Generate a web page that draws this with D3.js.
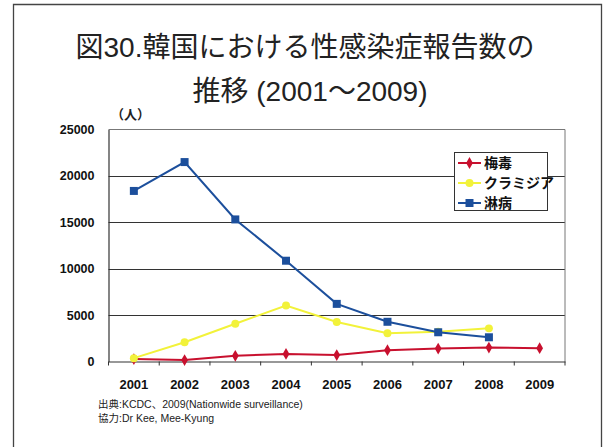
<!DOCTYPE html>
<html><head><meta charset="utf-8">
<script src="https://cdn.jsdelivr.net/npm/d3@7"></script>
<style>body{margin:0;background:#fff}svg{display:block}</style>
</head><body>
<script>
const years = ["2001","2002","2003","2004","2005","2006","2007","2008","2009"];
const syphilis = [260,150,610,820,690,1220,1390,1500,1430];
const chlamydia = [360,2080,4070,6040,4250,3040,3210,3570,null];
const gonorrhea = [18380,21490,15310,10860,6210,4280,3150,2610,null];
const yTicks = [0,5000,10000,15000,20000,25000];
const seriesNames = ["梅毒","クラミジア","淋病"];
const titleLines = ["図30.韓国における性感染症報告数の","推移 (2001～2009)"];
const notes = ["出典:KCDC、2009(Nationwide surveillance)","協力:Dr Kee, Mee-Kyung"];

const W=607,H=447;
const svg=d3.select("body").append("svg").attr("width",W).attr("height",H);
svg.append("rect").attr("width",W).attr("height",H).attr("fill","#fff");
// frame
svg.append("path").attr("d",`M13.5,${H+2}V4.5H601.5V${H+2}`).attr("fill","none").attr("stroke","#444").attr("stroke-width",1.3);

const cjk="'Noto Sans CJK JP','Noto Sans',sans-serif";
const mix="'Liberation Sans','Noto Sans CJK JP',sans-serif";
svg.selectAll("text.title").data(titleLines).join("text")
  .attr("x",(d,i)=>i?310:305).attr("y",(d,i)=>i?101:57)
  .attr("text-anchor","middle").attr("font-family",mix).attr("font-size",28)
  .attr("fill","#222").style("white-space","pre").text(d=>d);

const L=108.5,R=565,T=129.5,B=361.5;
const x=d3.scaleBand().domain(years).range([L,R]);
const y=d3.scaleLinear().domain([0,25000]).range([B,T]);

// gridlines
svg.append("g").selectAll("line").data(yTicks.filter(v=>v>0&&v<25000)).join("line")
  .attr("x1",L).attr("x2",R).attr("y1",d=>Math.round(y(d))+0.5).attr("y2",d=>Math.round(y(d))+0.5)
  .attr("stroke","#333").attr("stroke-width",1);
// plot border top/right
svg.append("path").attr("d",`M${L},${T}H${R}V${B}`).attr("fill","none").attr("stroke","#777").attr("stroke-width",1);

// axes
const yAxis=d3.axisLeft(y).tickValues(yTicks).tickFormat(d3.format("d")).tickSize(0).tickPadding(14);
const gy=svg.append("g").attr("transform",`translate(${L},0)`).call(yAxis);
gy.select(".domain").attr("stroke","#333").attr("stroke-width",1.2);
gy.selectAll("text").attr("font-family","'Liberation Sans',Arial,sans-serif").attr("font-weight","bold").attr("font-size",12.5).attr("fill","#111");

const xAxis=d3.axisBottom(x).tickSize(0).tickPadding(18);
const gx=svg.append("g").attr("transform",`translate(0,${B})`).call(xAxis);
gx.select(".domain").attr("stroke","#333").attr("stroke-width",1.2);
gx.selectAll("text").attr("font-family","'Liberation Sans',Arial,sans-serif").attr("font-weight","bold").attr("font-size",13).attr("fill","#111");
// boundary ticks
gx.append("g").selectAll("line").data(d3.range(years.length+1)).join("line")
  .attr("x1",i=>L+i*x.step()).attr("x2",i=>L+i*x.step()).attr("y1",0).attr("y2",4)
  .attr("stroke","#333");

// unit label
svg.append("text").attr("x",111).attr("y",119).attr("font-family",cjk).attr("font-weight","bold")
  .attr("font-size",13).attr("fill","#222").text("（人）");

const series=[
  {name:seriesNames[0],vals:syphilis,color:"#c8102e",shape:d3.symbolDiamond,size:40},
  {name:seriesNames[1],vals:chlamydia,color:"#f2f23a",shape:d3.symbolCircle,size:50},
  {name:seriesNames[2],vals:gonorrhea,color:"#1c4f9c",shape:d3.symbolSquare,size:64}
];
const line=d3.line().defined(d=>d.v!=null).x(d=>x(d.k)+x.bandwidth()/2).y(d=>y(d.v));
series.forEach(s=>{
  const pts=years.map((k,i)=>({k,v:s.vals[i]}));
  svg.append("path").datum(pts).attr("d",line).attr("fill","none").attr("stroke",s.color).attr("stroke-width",2);
  svg.append("g").selectAll("path").data(pts.filter(d=>d.v!=null)).join("path")
    .attr("d",d3.symbol().type(s.shape).size(s.size))
    .attr("transform",d=>`translate(${x(d.k)+x.bandwidth()/2},${y(d.v)})`)
    .attr("fill",s.color);
});

// legend
const lg=svg.append("g");
lg.append("rect").attr("x",454.5).attr("y",152.5).attr("width",93).attr("height",58)
  .attr("fill","#fff").attr("stroke","#333").attr("stroke-width",1);
series.forEach((s,i)=>{
  const cy=163+i*20;
  lg.append("line").attr("x1",458).attr("x2",481).attr("y1",cy).attr("y2",cy).attr("stroke",s.color).attr("stroke-width",2);
  lg.append("path").attr("d",d3.symbol().type(s.shape).size(s.size)).attr("transform",`translate(469.5,${cy})`).attr("fill",s.color);
  lg.append("text").attr("x",484).attr("y",cy+5).attr("font-family",cjk).attr("font-weight","bold")
    .attr("font-size",14).attr("fill","#111").text(s.name);
});

// notes
svg.selectAll("text.note").data(notes).join("text")
  .attr("x",98).attr("y",(d,i)=>408+i*13.5).attr("font-family",mix).attr("font-size",10.5)
  .attr("fill","#222").text(d=>d);
</script>
</body></html>
